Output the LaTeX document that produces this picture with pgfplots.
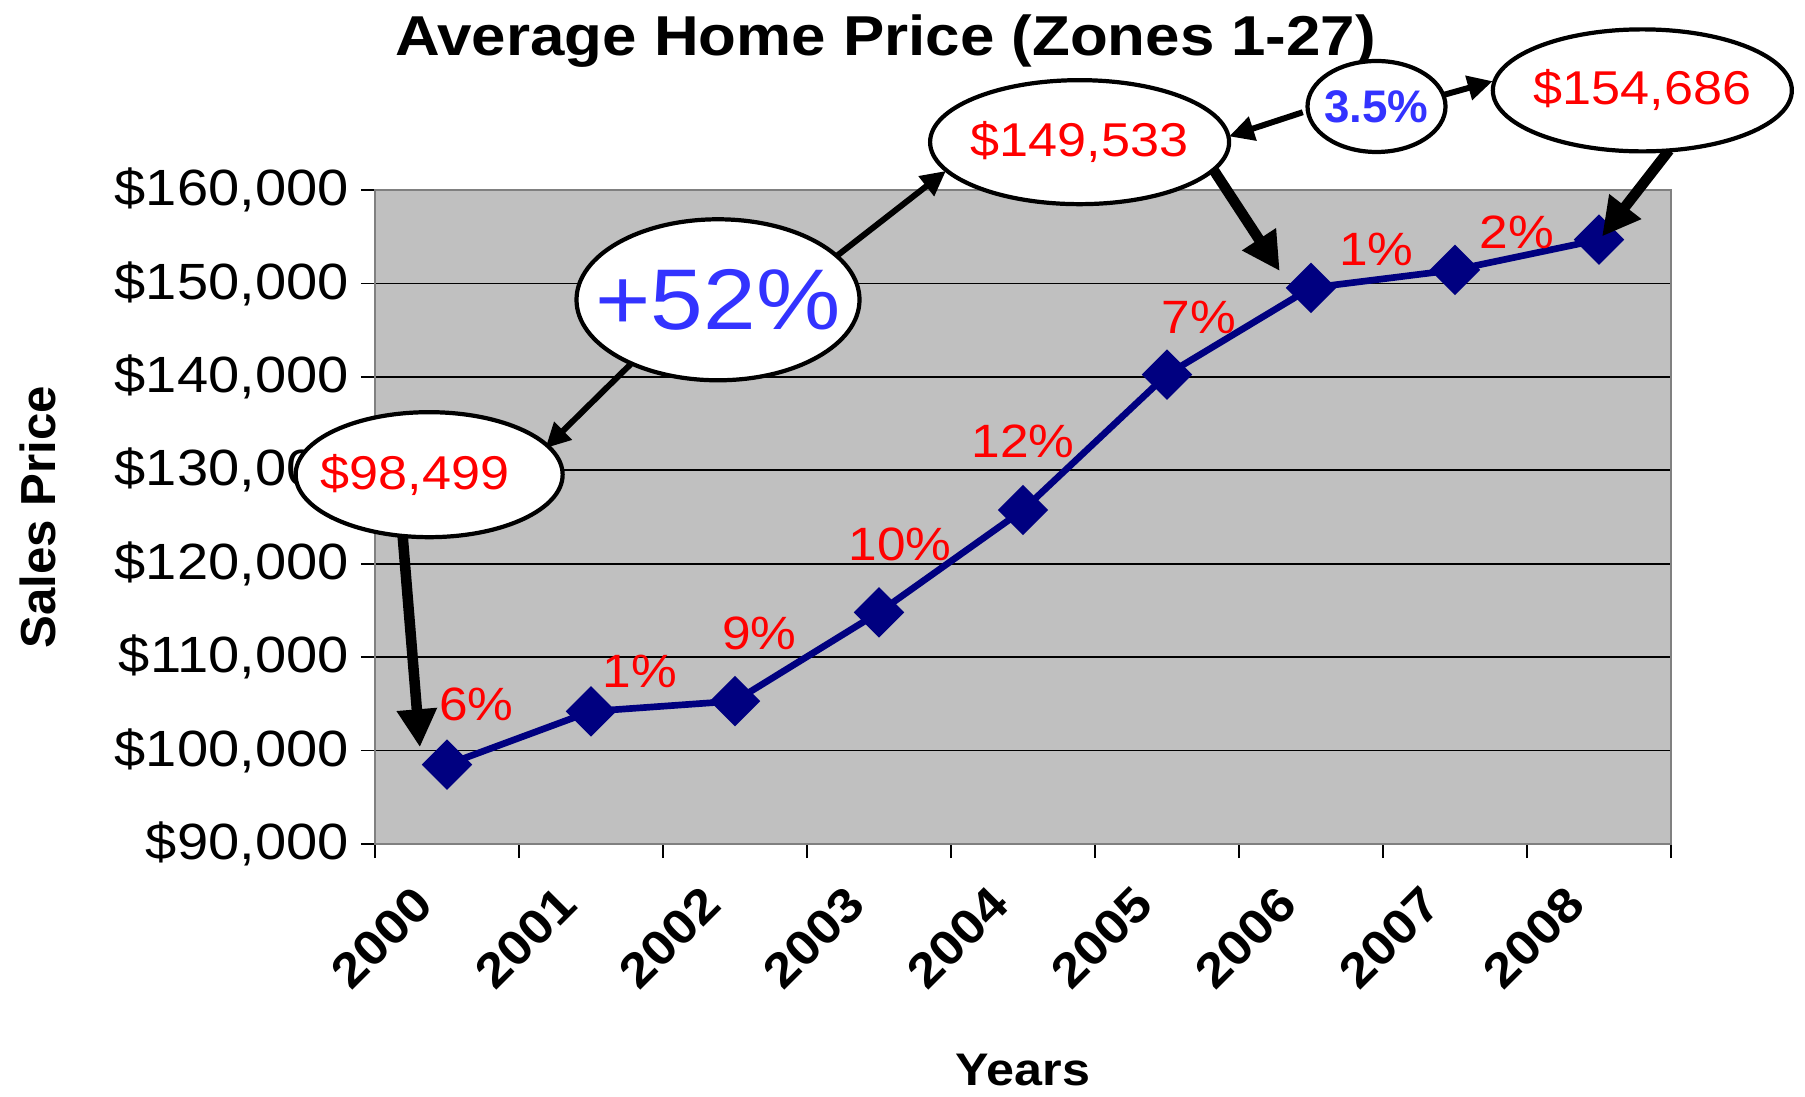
\documentclass[border=0pt]{standalone}
\usepackage{pgfplots}
\pgfplotsset{compat=1.18}
\usepackage{fontspec}
\setmainfont{Liberation Sans}[FakeStretch=1.1]
\newfontfamily\plainsans{Liberation Sans}
\usetikzlibrary{arrows.meta}

\definecolor{plotgray}{HTML}{C0C0C0}
\definecolor{framegray}{HTML}{808080}
\definecolor{navyline}{HTML}{000080}
\definecolor{annored}{HTML}{FF0000}
\definecolor{annoblue}{HTML}{3333FF}

\begin{document}
\begin{tikzpicture}
\begin{axis}[
    at={(0,0)}, anchor=south west,
    scale only axis,
    width=129.6mm, height=65.4mm,
    xmin=-0.5, xmax=8.5,
    ymin=90000, ymax=160000,
    axis background/.style={fill=plotgray},
    axis line style={framegray, line width=0.8pt},
    tick align=outside,
    xtick pos=bottom, ytick pos=left,
    xtick={0,1,2,3,4,5,6,7,8},
    xticklabels={2000,2001,2002,2003,2004,2005,2006,2007,2008},
    major x tick style={draw=none},
    minor xtick={-0.5,0.5,1.5,2.5,3.5,4.5,5.5,6.5,7.5,8.5},
    minor x tick style={black, line width=0.5pt},
    minor tick length=1.4mm,
    major tick length=1.4mm,
    ytick={90000,100000,...,160000},
    yticklabels={{\$90,000},{\$100,000},{\$110,000},{\$120,000},{\$130,000},{\$140,000},{\$150,000},{\$160,000}},
    scaled y ticks=false,
    y tick style={black, line width=0.5pt},
    ymajorgrids,
    grid style={black, line width=0.5pt},
    yticklabel style={font=\fontsize{14.5}{16}\selectfont},
    xticklabel style={font=\bfseries\fontsize{13.8}{15}\selectfont,
        xshift=-1.5mm, yshift=-2.9mm, rotate=45, anchor=east},
    every axis title shift=0pt,
    title={Average Home Price (Zones 1-27)},
    title style={font=\bfseries\fontsize{16}{18}\selectfont,
        at={(axis description cs:0.394,1.227)}, anchor=center},
    xlabel={Years},
    xlabel style={font=\bfseries\fontsize{13}{15}\selectfont,
        at={(axis description cs:0.5,-0.3456)}, anchor=center},
    ylabel={Sales Price},
    ylabel style={font=\plainsans\bfseries\fontsize{14}{16}\selectfont,
        at={(axis description cs:-0.26,0.5)}, anchor=center},
]
\addplot[navyline, line width=1.9pt, mark=square*,
    mark options={rotate=45, solid, fill=navyline}, mark size=1.45mm]
    coordinates {
    (0,98499) (1,104200) (2,105300) (3,114800) (4,125750)
    (5,140250) (6,149533) (7,151450) (8,154686)
    };

% yearly change labels
\begin{scope}[every node/.style={text=annored, font=\fontsize{13.3}{15}\selectfont}]
\node at (axis cs:0.204,104901) {6\%};
\node at (axis cs:1.339,108473) {1\%};
\node at (axis cs:2.17,112537) {9\%};
\node at (axis cs:3.145,122020) {10\%};
\node at (axis cs:4.0,133103) {12\%};
\node at (axis cs:5.223,146404) {7\%};
\node at (axis cs:6.455,153670) {1\%};
\node at (axis cs:7.43,155517) {2\%};
\end{scope}

% anchors for the callouts
\coordinate (e1) at (axis cs:-0.124,129532);
\coordinate (e2) at (axis cs:1.882,148251);
\coordinate (e3) at (axis cs:4.393,165123);
\coordinate (e4) at (axis cs:6.455,168941);
\coordinate (e5) at (axis cs:8.301,170665);
\coordinate (a1) at (axis cs:-0.308,123005);
\coordinate (a2) at (axis cs:-0.188,100357);
\coordinate (b1) at (axis cs:1.275,141355);
\coordinate (b2) at (axis cs:0.683,132365);
\coordinate (c1) at (axis cs:2.706,152931);
\coordinate (c2) at (axis cs:3.465,162044);
\coordinate (d1) at (axis cs:5.328,162044);
\coordinate (d2) at (axis cs:5.783,151330);
\coordinate (f1) at (axis cs:5.943,168325);
\coordinate (f2) at (axis cs:5.431,165739);
\coordinate (g1) at (axis cs:6.862,169926);
\coordinate (g2) at (axis cs:7.262,171650);
\coordinate (h1) at (axis cs:8.487,164261);
\coordinate (h2) at (axis cs:8.021,155025);
\end{axis}

% arrows
\draw[line width=3pt, -{Triangle[length=3.8mm, width=3.8mm]}] (a1) -- (a2);
\draw[line width=3pt, -{Triangle[length=3.8mm, width=3.8mm]}] (d1) -- (d2);
\draw[line width=3pt, -{Triangle[length=3.8mm, width=3.8mm]}] (h1) -- (h2);
\draw[line width=1.7pt, -{Triangle[length=2.5mm, width=2.4mm]}] (b1) -- (b2);
\draw[line width=1.7pt, -{Triangle[length=2.5mm, width=2.4mm]}] (c1) -- (c2);
\draw[line width=1.7pt, -{Triangle[length=2.5mm, width=2.4mm]}] (f1) -- (f2);
\draw[line width=1.7pt, -{Triangle[length=2.5mm, width=2.4mm]}] (g1) -- (g2);

% callout ellipses
\draw[fill=white, line width=1.2pt] (e1) ellipse [x radius=13.35mm, y radius=6.25mm];
\draw[fill=white, line width=1.2pt] (e2) ellipse [x radius=14.15mm, y radius=8.05mm];
\draw[fill=white, line width=1.2pt] (e3) ellipse [x radius=14.95mm, y radius=6.2mm];
\draw[fill=white, line width=1.2pt] (e4) ellipse [x radius=6.9mm, y radius=4.55mm];
\draw[fill=white, line width=1.2pt] (e5) ellipse [x radius=14.95mm, y radius=6.1mm];
\node[text=annored, font=\fontsize{13.5}{15}\selectfont, xshift=-1.4mm] at (e1) {\$98,499};
\node[text=annoblue, font=\fontsize{24.5}{27}\selectfont] at (e2) {+52\%};
\node[text=annored, font=\fontsize{13.5}{15}\selectfont] at (e3) {\$149,533};
\node[text=annoblue, font=\plainsans\bfseries\fontsize{13}{15}\selectfont] at (e4) {3.5\%};
\node[text=annored, font=\fontsize{13.5}{15}\selectfont] at (e5) {\$154,686};

\pgfresetboundingbox
\useasboundingbox (-37.5mm,-25.2mm) rectangle (143mm,84.4mm);
\end{tikzpicture}
\end{document}
